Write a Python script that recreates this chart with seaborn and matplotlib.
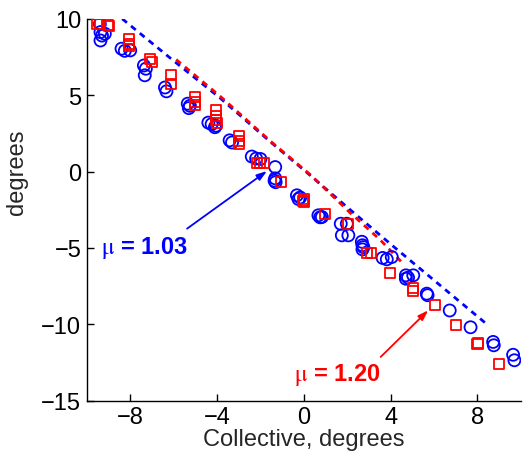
import numpy as np
import pandas as pd
import matplotlib
matplotlib.use("Agg")
import matplotlib.pyplot as plt
import seaborn as sns

# ---- data ----
blue_x = [-9.4, -9.37, -9.3, -9.17, -9.37,
          -8.4, -8.25, -8.0,
          -7.37, -7.28, -7.33,
          -6.4, -6.33,
          -5.35, -5.25, -5.3,
          -4.4, -4.25, -4.05, -4.1,
          -3.42, -3.31,
          -2.4, -2.2, -2.0,
          -1.32, -1.32, -1.3, -1.35,
          -0.32, -0.17, -0.25,
          0.67, 0.83, 0.75,
          1.7, 1.98, 1.75, 2.05,
          2.67, 2.7, 2.74, 2.7,
          3.63, 3.82, 4.05,
          4.7, 4.7, 5.04, 4.8,
          5.66, 5.7,
          6.72,
          7.68,
          8.72, 8.75,
          9.64, 9.7]
blue_y = [9.65, 9.13, 8.9, 9.02, 8.58,
          8.04, 7.9, 7.93,
          6.94, 6.73, 6.3,
          5.5, 5.25,
          4.44, 4.3, 4.15,
          3.2, 3.1, 3.0, 2.9,
          2.04, 1.9,
          0.98, 0.85, 0.82,
          0.29, -0.45, -0.7, -0.6,
          -1.56, -1.7, -1.8,
          -2.87, -2.98, -3.0,
          -3.42, -3.42, -4.18, -4.18,
          -4.6, -4.83, -4.95, -5.1,
          -5.66, -5.75, -5.6,
          -6.8, -7.02, -6.8, -6.95,
          -8.0, -8.1,
          -9.1,
          -10.2,
          -11.16, -11.38,
          -12.0, -12.36]

red_x = [-9.55, -9.4, -9.02, -9.0,
         -8.05, -8.05, -8.05,
         -7.07, -7.0,
         -6.1, -6.1,
         -5.03, -5.03, -5.03,
         -4.03, -4.03, -4.03, -4.0,
         -3.0, -3.0, -3.0,
         -2.15, -2.0, -1.85,
         -1.04,
         0.0, 0.0, -0.05,
         0.98,
         2.05,
         2.9, 3.08,
         3.97,
         5.04, 5.04,
         6.04,
         7.03,
         8.03, 8.0,
         9.0]
red_y = [9.67, 9.67, 9.62, 9.5,
         8.7, 8.36, 8.2,
         7.38, 7.15,
         6.3, 5.75,
         4.9, 4.55, 4.37,
         4.0, 3.65, 3.35, 3.15,
         2.32, 2.0, 1.82,
         0.58, 0.58, 0.58,
         -0.7,
         -1.78, -2.0, -1.9,
         -2.76,
         -3.42,
         -5.35, -5.35,
         -6.62,
         -7.6, -7.85,
         -8.76,
         -10.05,
         -11.23, -11.3,
         -12.58]

blue_line_x = [-8.37, -6.15, -3.85, -1.55, 0.29, 2.13, 4.12, 5.81, 8.49]
blue_line_y = [10.0, 7.42, 4.8, 1.95, -0.25, -2.5, -4.9, -6.9, -10.07]
red_line_x = [-6.07, -3.85, -1.55, 0.29, 2.13, 3.5, 4.55]
red_line_y = [7.55, 4.92, 2.0, -0.2, -2.7, -4.45, -6.0]

x_ticks = [-8, -4, 0, 4, 8]
y_ticks = [-15, -10, -5, 0, 5, 10]
label_blue = r"$\mathrm{\mu}$ = 1.03"
label_red = r"$\mathrm{\mu}$ = 1.20"

BLUE = (0, 0, 1)
RED = (1, 0, 0)

sns.set_style("ticks")
plt.rcParams["font.family"] = ["Liberation Sans", "DejaVu Sans"]
plt.rcParams["mathtext.fontset"] = "stix"
plt.rcParams["xtick.direction"] = "in"
plt.rcParams["ytick.direction"] = "in"

fig = plt.figure(figsize=(5.23, 4.60), dpi=100)
ax = fig.add_axes([0.166, 0.127, 0.830, 0.830])

df_b = pd.DataFrame({"x": blue_x, "y": blue_y})
df_r = pd.DataFrame({"x": red_x, "y": red_y})
df_bl = pd.DataFrame({"x": blue_line_x, "y": blue_line_y})
df_rl = pd.DataFrame({"x": red_line_x, "y": red_line_y})

sns.lineplot(data=df_bl, x="x", y="y", ax=ax, sort=False, estimator=None,
             color=BLUE, lw=2.0, dashes=False)
sns.lineplot(data=df_rl, x="x", y="y", ax=ax, sort=False, estimator=None,
             color=RED, lw=2.0, dashes=False)
ax.lines[0].set_linestyle((0, (2.2, 1.9)))
ax.lines[1].set_linestyle((2.2, (2.2, 1.9)))

sns.scatterplot(data=df_b, x="x", y="y", ax=ax, marker="o", s=75,
                facecolor="none", edgecolor=BLUE, linewidth=1.3, zorder=3)
sns.scatterplot(data=df_r, x="x", y="y", ax=ax, marker="s", s=52,
                facecolor="none", edgecolor=RED, linewidth=1.3, zorder=4)

ax.set_xlim(-10, 10)
ax.set_ylim(-15, 10)
ax.set_xticks(x_ticks)
ax.set_yticks(y_ticks)
ax.set_xticklabels([str(t).replace("-", "\u2212") for t in x_ticks])
ax.set_yticklabels([str(t).replace("-", "\u2212") for t in y_ticks])
ax.tick_params(axis="both", labelsize=17, length=5, width=1, pad=4,
               colors="black")
sns.despine(ax=ax)
for sp in ["left", "bottom"]:
    ax.spines[sp].set_linewidth(1.0)
    ax.spines[sp].set_color("black")

ax.set_xlabel("Collective, degrees", fontsize=17, labelpad=0)
ax.set_ylabel("degrees", fontsize=17)
ax.yaxis.set_label_coords(-0.135, 0.6)

ax.text(-7.34, -4.92, label_blue, color=BLUE, fontsize=17,
        fontweight="bold", ha="center", va="center")
ax.annotate("", xy=(-1.70, 0.03), xytext=(-5.38, -3.74),
            arrowprops=dict(arrowstyle="-|>,head_length=0.6,head_width=0.2",
                            color=BLUE, lw=1.3, shrinkA=0, shrinkB=0))
ax.text(1.55, -13.23, label_red, color=RED, fontsize=17,
        fontweight="bold", ha="center", va="center")
ax.annotate("", xy=(5.73, -9.09), xytext=(3.54, -12.14),
            arrowprops=dict(arrowstyle="-|>,head_length=0.6,head_width=0.2",
                            color=RED, lw=1.3, shrinkA=0, shrinkB=0))

fig.savefig("out.png", dpi=100)
